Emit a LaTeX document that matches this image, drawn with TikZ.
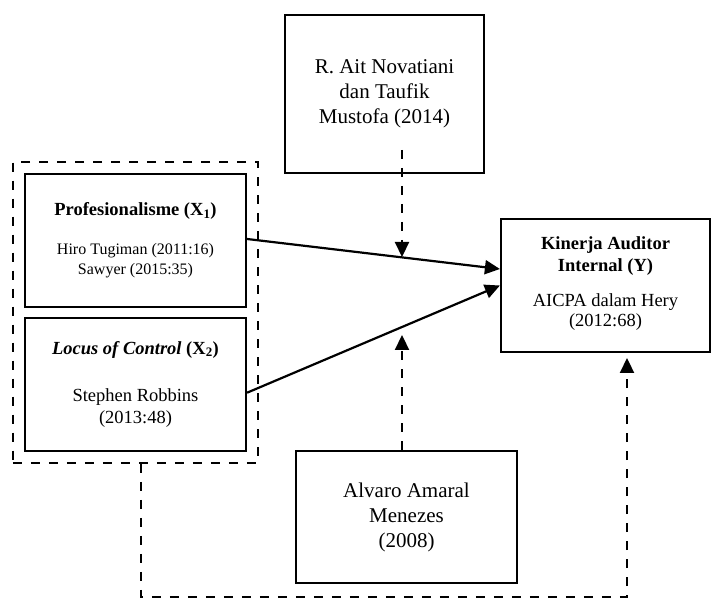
\documentclass[tikz,border=0pt]{standalone}
\usepackage{fontspec}
\setmainfont{Liberation Serif}
\usetikzlibrary{arrows.meta}
\usetikzlibrary{positioning}
\usetikzlibrary{fit}

\tikzset{
  box/.style={draw,line width=2.2pt,align=center,inner sep=0pt,
    minimum width=221pt,minimum height=133pt,font=\fontsize{18.5}{22}\selectfont},
  bigbox/.style={box,font=\fontsize{21}{25}\selectfont},
  groupbox/.style={draw,line width=2.2pt,dash pattern=on 9pt off 9pt,inner sep=11pt},
  link/.style={line width=2.2pt,-{Triangle[length=15pt,width=14pt]}},
  dlink/.style={link,dash pattern=on 9pt off 9pt}
}

\begin{document}
\begin{tikzpicture}[x=1pt,y=1pt,node distance=8.5pt,on grid=false]
    \useasboundingbox (0,0) rectangle (711,599);
    % Place nodes
    \node[box] (pro) at (135.5,358.5) {\textbf{Profesionalisme (X\textsubscript{1})}\\[17pt]{\fontsize{16}{19}\selectfont Hiro Tugiman (2011:16)}\\[-2pt]{\fontsize{16}{19}\selectfont Sawyer (2015:35)}};
    \node[box,below=of pro] (loc) {\textbf{\textit{Locus of Control}} \textbf{(X\textsubscript{2})}\\[25pt]Stephen Robbins\\(2013:48)};
    \node[bigbox,minimum width=199pt,minimum height=158pt] (nov) at (384.5,505) {R. Ait Novatiani\\dan Taufik\\Mustofa (2014)};
    \node[box,minimum width=209pt] (kin) at (605.5,313.5) {\textbf{Kinerja Auditor}\\\textbf{Internal (Y)}\\[13pt]AICPA dalam Hery\\[-2pt](2012:68)\\[-14pt]\mbox{}};
    \node[bigbox,minimum height=132pt] (alv) at (406.5,82) {Alvaro Amaral\\Menezes\\(2008)};
    \node[groupbox,fit=(pro)(loc)] (grp) {};

    % Helper points
    \coordinate (novs) at (402,449);
    \coordinate (novt) at (402,342);
    \coordinate (alvt) at (402,264);
    \coordinate (turn1) at (141,2);
    \coordinate (turn2) at (627,2);
    \coordinate (kint) at (627,241);

    % Draw links
    \draw[link] ([yshift=1.5pt]pro.east) -- ([yshift=16.5pt]kin.west);
    \draw[link] ([yshift=-8.5pt]loc.east) -- (kin.west);
    \draw[dlink] (novs) -- (novt);
    \draw[dlink] (alvt |- alv.north) -- (alvt);
    \draw[dlink] (turn1 |- grp.south) -- (turn1) -- (turn2) -- (kint);
\end{tikzpicture}
\end{document}
